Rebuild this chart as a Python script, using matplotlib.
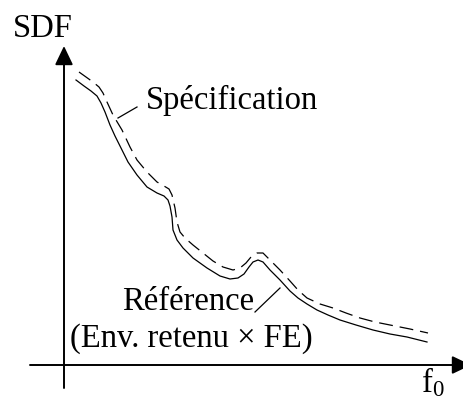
import matplotlib
matplotlib.use("Agg")
import matplotlib.pyplot as plt

plt.rcParams['font.family'] = ['Liberation Serif', 'DejaVu Serif']
plt.rcParams['mathtext.fontset'] = 'custom'
plt.rcParams['mathtext.rm'] = 'Liberation Serif'
plt.rcParams['mathtext.it'] = 'Liberation Serif'
plt.rcParams['lines.scale_dashes'] = False

# Référence curve (solid, lower)
ref_f = [12, 20, 27, 33, 37, 41, 46, 51, 56, 64, 73, 83, 93, 100, 104, 106, 108, 109, 113, 119,
         129, 143, 156, 166, 174, 180, 185, 189, 194, 199, 206, 216, 226, 234, 243, 253, 264, 276,
         292, 309, 326, 343, 363]
ref_sdf = [285, 279, 274, 269, 262, 253, 240, 229, 219, 203, 190, 178, 172, 169, 165, 159, 148, 135,
           125, 117, 107, 97, 89, 86, 87, 91, 98, 103, 105, 103, 95, 85, 74, 67, 61, 55, 50, 45, 40,
           35, 31, 28, 23]

# Spécification curve (dashed, upper)
spec_f = [15, 22, 29, 35, 39, 43, 49, 58, 66, 73, 83, 93, 100, 105, 108, 111, 113, 116, 121, 129,
          139, 149, 159, 169, 176, 182, 187, 193, 199, 206, 216, 226, 234, 243, 256, 269, 282, 296,
          311, 326, 346, 364]
spec_sdf = [293, 288, 283, 278, 272, 263, 250, 235, 218, 205, 193, 183, 179, 176, 170, 157, 143, 133,
            127, 120, 112, 104, 98, 95, 97, 102, 108, 112, 112, 105, 95, 84, 75, 67, 61, 57, 52, 47,
            43, 40, 36, 32]

# leader lines for the labels
spec_leader_f = [54, 73]
spec_leader_sdf = [247, 258]
ref_leader_f = [191, 216]
ref_leader_sdf = [53, 77]

fig = plt.figure(figsize=(4.64, 4.00), dpi=100)
ax = fig.add_axes([0, 0, 1, 1])
ax.set_xlim(-64, 400)
ax.set_ylim(-35, 365)
ax.axis('off')

# axes with arrows
ax.annotate('', xy=(0, 319), xytext=(0, -23),
            arrowprops=dict(arrowstyle='-|>,head_length=1.15,head_width=0.55',
                            mutation_scale=10, lw=1.4, color='black',
                            shrinkA=0, shrinkB=0))
ax.annotate('', xy=(407, 0), xytext=(-34, 0),
            arrowprops=dict(arrowstyle='-|>,head_length=1.15,head_width=0.55',
                            mutation_scale=10, lw=1.4, color='black',
                            shrinkA=0, shrinkB=0), annotation_clip=False)

ax.plot(ref_f, ref_sdf, color='black', lw=0.9, solid_joinstyle='round')
ax.plot(spec_f, spec_sdf, color='black', lw=0.9, dashes=(10, 5))
ax.plot(spec_leader_f, spec_leader_sdf, color='black', lw=0.9)
ax.plot(ref_leader_f, ref_leader_sdf, color='black', lw=0.9)

fs = 23.5
ax.text(-21.5, 328, 'SDF', fontsize=fs, ha='center', va='baseline')
ax.text(82, 256, 'Spécification', fontsize=fs, ha='left', va='baseline')
ax.text(124, 55, 'Référence', fontsize=fs, ha='center', va='baseline')
ax.text(127, 18, '(Env. retenu × FE)', fontsize=fs, ha='center', va='baseline')
ax.text(357, -27, r'$\mathrm{f}_{\mathrm{0}}$', fontsize=fs, ha='left', va='baseline')

fig.savefig('out.png', dpi=100)
